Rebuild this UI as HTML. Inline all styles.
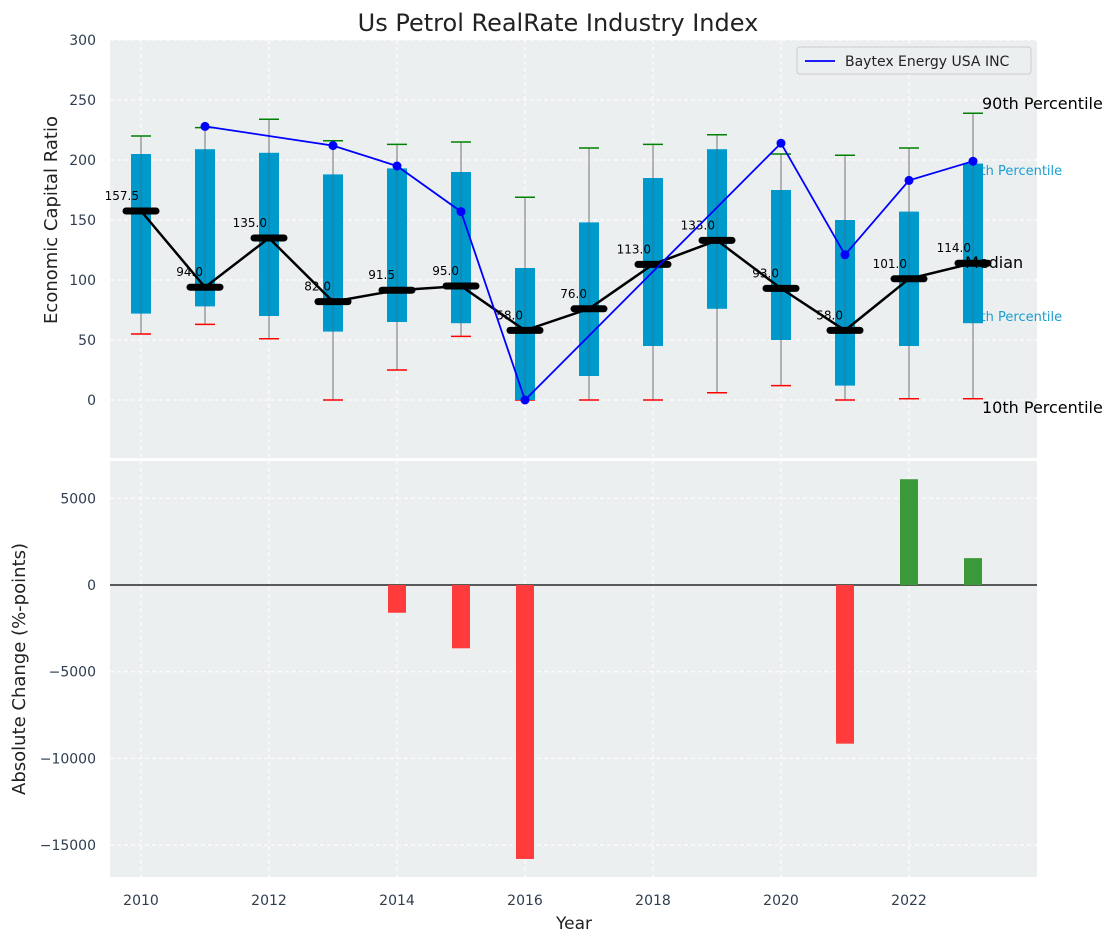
<!DOCTYPE html>
<html><head><meta charset="utf-8"><style>
body{margin:0;background:#fff;font-family:"DejaVu Sans","Liberation Sans",sans-serif}
svg text{font-family:"DejaVu Sans","Liberation Sans",sans-serif}
</style></head><body>
<svg id="c" width="1117" height="942" xmlns="http://www.w3.org/2000/svg"></svg>
<script>
const years=[2010,2011,2012,2013,2014,2015,2016,2017,2018,2019,2020,2021,2022,2023];
const q1=[72,78,70,57,65,64,0,20,45,76,50,12,45,64];
const q3=[205,209,206,188,193,190,110,148,185,209,175,150,157,197];
const lows=[55,63,51,0,25,53,0,0,0,6,12,0,1,1];
const highs=[220,227,234,216,213,215,169,210,213,221,205,204,210,239];
const medians=[157.5,94,135,82,91.5,95,58,76,113,133,93,58,101,114];
const baytexYears=[2011,2013,2014,2015,2016,2020,2021,2022,2023];
const baytexVals=[228,212,195,157,0,214,121,183,199];
const changeYears=[2014,2015,2016,2021,2022,2023];
const changeVals=[-1600,-3650,-15800,-9150,6100,1550];
const xTicks=[2010,2012,2014,2016,2018,2020,2022];
const yTopTicks=[0,50,100,150,200,250,300];
const yBotTicks=[-15000,-10000,-5000,0,5000];

const S=document.getElementById('c');const NS='http://www.w3.org/2000/svg';
function el(t,a,txt){const e=document.createElementNS(NS,t);for(const k in a)e.setAttribute(k,a[k]);if(txt!==undefined)e.textContent=txt;S.appendChild(e);return e;}
const L=110,R=1037;
const x=v=>141+(v-2010)*64;
const yT=v=>400-v*1.2;
const yB=v=>585-v*0.01734;
const TC='#2e3d4f';

let p=el('rect',{x:L,y:40,width:R-L,height:418,fill:'#eceff0'});

p=el('rect',{x:L,y:461,width:R-L,height:416,fill:'#eceff0'});


xTicks.forEach(t=>{
 el('line',{x1:x(t),x2:x(t),y1:40,y2:458,stroke:'#fff','stroke-dasharray':'4,3','stroke-width':1});
 el('line',{x1:x(t),x2:x(t),y1:461,y2:877,stroke:'#fff','stroke-dasharray':'4,3','stroke-width':1});
 let e=el('text',{x:x(t),y:905,'font-size':14,fill:TC,'text-anchor':'middle'},t);
 
});
yTopTicks.forEach(t=>{
 el('line',{x1:L,x2:R,y1:yT(t),y2:yT(t),stroke:'#fff','stroke-dasharray':'4,3'});
 let e=el('text',{x:96,y:yT(t)+5,'font-size':14,fill:TC,'text-anchor':'end'},t);
 
});
yBotTicks.forEach(t=>{
 el('line',{x1:L,x2:R,y1:yB(t),y2:yB(t),stroke:'#fff','stroke-dasharray':'4,3'});
 let e=el('text',{x:96,y:yB(t)+5,'font-size':14,fill:TC,'text-anchor':'end'},t==0?'0':(t<0?'\u2212'+(-t):t));
 
});

let lb=el('text',{x:964,y:175,'font-size':13,fill:'#1a9fd0'},'75th Percentile');

lb=el('text',{x:964,y:321,'font-size':13,fill:'#1a9fd0'},'25th Percentile');


years.forEach((yr,i)=>{
 const cx=x(yr);
 let w=el('line',{x1:cx,x2:cx,y1:yT(lows[i]),y2:yT(highs[i]),stroke:'#888','stroke-width':1.2});
 
 let c=el('line',{x1:cx-10,x2:cx+10,y1:yT(lows[i]),y2:yT(lows[i]),stroke:'red','stroke-width':1.5});
 
 c=el('line',{x1:cx-10,x2:cx+10,y1:yT(highs[i]),y2:yT(highs[i]),stroke:'green','stroke-width':1.5});
 
 let b=el('rect',{x:cx-10,y:yT(q3[i]),width:20,height:yT(q1[i])-yT(q3[i]),fill:'#0099cc'});
 
 el('line',{x1:cx,x2:cx,y1:yT(q1[i]),y2:yT(q3[i]),stroke:'#555','stroke-width':0.8,opacity:0.5});
});
lb=el('text',{x:965,y:268,'font-size':16,fill:'#000'},'Median');

let pl=el('polyline',{points:years.map((yr,i)=>x(yr)+','+yT(medians[i])).join(' '),fill:'none',stroke:'#000','stroke-width':2.5});

years.forEach((yr,i)=>{
 let m=el('line',{x1:x(yr)-15,x2:x(yr)+15,y1:yT(medians[i]),y2:yT(medians[i]),stroke:'#000','stroke-width':7,'stroke-linecap':'round'});
 
 let t=el('text',{x:x(yr)-2,y:yT(medians[i])-11,'font-size':12,fill:'#000','text-anchor':'end'},medians[i].toFixed(1));
 
});
pl=el('polyline',{points:baytexYears.map((yr,i)=>x(yr)+','+yT(baytexVals[i])).join(' '),fill:'none',stroke:'#0000ff','stroke-width':1.8});

baytexYears.forEach((yr,i)=>{
 let d=el('circle',{cx:x(yr),cy:yT(baytexVals[i]),r:4.5,fill:'#0000ff'});
 
});
lb=el('text',{x:982,y:109,'font-size':16,fill:'#000'},'90th Percentile');

lb=el('text',{x:982,y:413,'font-size':16,fill:'#000'},'10th Percentile');


let lg=el('rect',{x:797,y:47,width:234,height:27,rx:3,fill:'#eceff0',stroke:'#ccc'});

el('line',{x1:805,x2:835,y1:61,y2:61,stroke:'#0000ff','stroke-width':1.8});
lg=el('text',{x:845,y:66,'font-size':14,fill:'#222'},'Baytex Energy USA INC');


el('line',{x1:L,x2:R,y1:yB(0),y2:yB(0),stroke:'#000','stroke-width':1.2});
changeYears.forEach((yr,i)=>{
 const v=changeVals[i];
 let b=el('rect',{x:x(yr)-9,y:Math.min(yB(0),yB(v)),width:18,height:Math.abs(yB(v)-yB(0)),fill:v<0?'#ff3b3b':'#3a9a3a'});
 
});

let t=el('text',{x:558,y:31,'font-size':24,fill:'#222','text-anchor':'middle'},'Us Petrol RealRate Industry Index');

t=el('text',{x:574,y:929,'font-size':17,fill:'#222','text-anchor':'middle'},'Year');

t=el('text',{x:57,y:220,'font-size':18,fill:'#222','text-anchor':'middle',transform:'rotate(-90 57 220)'},'Economic Capital Ratio');

t=el('text',{x:25,y:669,'font-size':18,fill:'#222','text-anchor':'middle',transform:'rotate(-90 25 669)'},'Absolute Change (%-points)');

</script>
</body></html>
